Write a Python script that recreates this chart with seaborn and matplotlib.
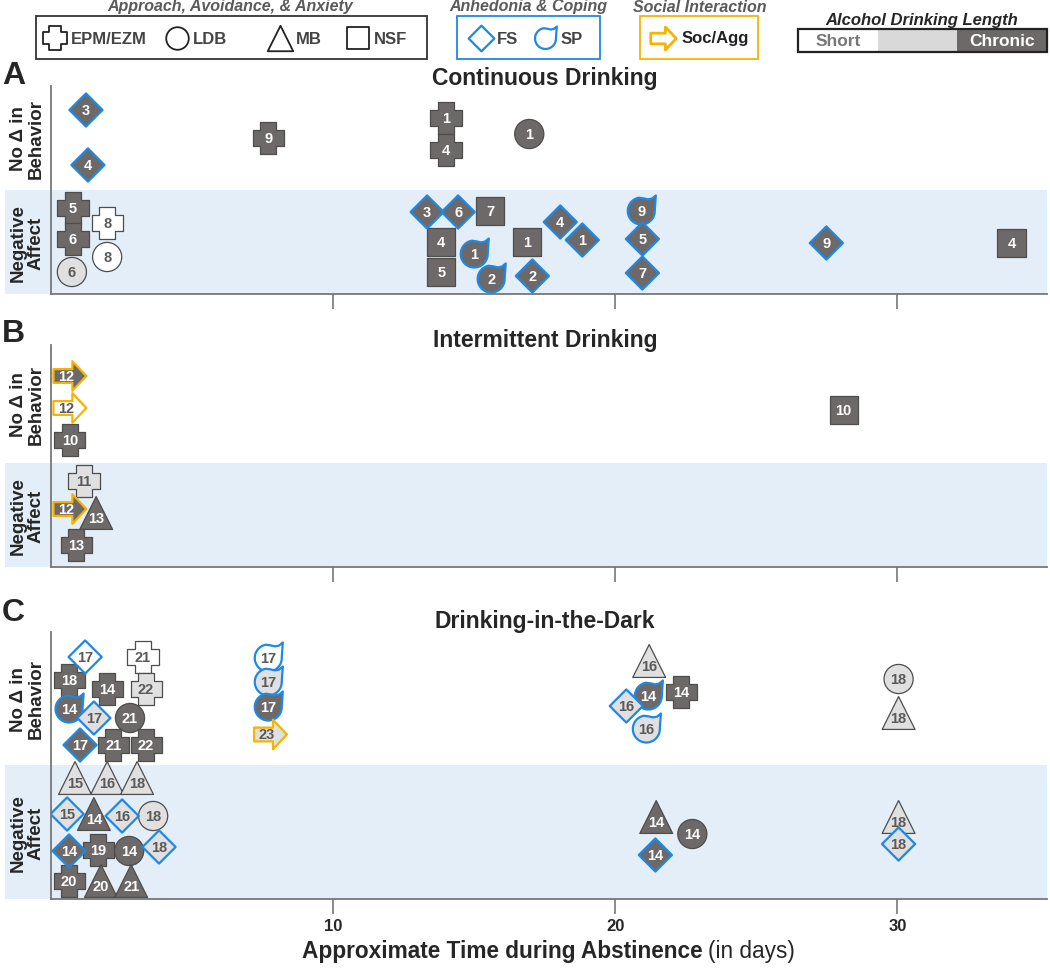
import numpy as np
import pandas as pd
import matplotlib
matplotlib.use('Agg')
import matplotlib.pyplot as plt
from matplotlib.path import Path
from matplotlib.patches import Rectangle
import seaborn as sns

# ---------------- data (day of abstinence, vertical slot inside panel) ----------------
# panel A - continuous drinking
a_day = [1.24, 1.31, 7.70, 14.0, 14.0, 16.95,
         0.78, 0.78, 0.74, 1.99, 1.99, 13.33, 14.43, 15.57, 13.83, 15.0, 13.83, 15.6,
         16.88, 18.05, 18.83, 17.06, 20.92, 20.96, 20.96, 27.48, 34.04]
a_y = [184, 129, 156, 176, 144, 160,
       86, 55, 22, 71, 37, 82, 82, 83, 52, 40, 22, 15,
       52, 72, 54, 18, 83, 55, 21, 51, 51]
a_test = ['FS', 'FS', 'EPM', 'EPM', 'EPM', 'LDB',
          'EPM', 'EPM', 'LDB', 'EPM', 'LDB', 'FS', 'FS', 'NSF', 'NSF', 'SP', 'NSF', 'SP',
          'NSF', 'FS', 'FS', 'FS', 'SP', 'FS', 'FS', 'FS', 'NSF']
a_len = ['chronic'] * 8 + ['mid', 'short', 'short'] + ['chronic'] * 16
a_lab = ['3', '4', '9', '1', '4', '1',
         '5', '6', '6', '8', '8', '3', '6', '7', '4', '1', '5', '2',
         '1', '4', '1', '2', '9', '5', '7', '9', '4']

# panel B - intermittent drinking
b_day = [0.67, 0.67, 0.67, 28.09, 1.17, 0.67, 1.60, 0.89]
b_y = [191, 159, 127, 157, 86, 58, 54, 22]
b_test = ['SOC', 'SOC', 'EPM', 'NSF', 'EPM', 'SOC', 'MB', 'EPM']
b_len = ['chronic', 'short', 'chronic', 'chronic', 'mid', 'chronic', 'chronic', 'chronic']
b_lab = ['12', '12', '10', '10', '11', '12', '13', '13']

# panel C - drinking-in-the-dark
c_day = [1.21, 0.64, 1.99, 0.64, 1.52, 2.80, 1.03, 2.20, 3.37, 3.26, 3.37,
         7.70, 7.70, 7.70, 7.77, 21.2, 21.17, 22.34, 20.39, 21.1, 30.04, 30.04,
         0.85, 1.99, 3.05, 0.57, 1.52, 2.52, 3.62, 0.64, 1.67, 2.77, 3.83,
         0.64, 1.77, 2.84, 21.45, 22.73, 21.42, 30.04, 30.04]
c_y = [242, 219, 210, 190, 181, 181, 154, 154, 154, 242, 210,
       241, 217, 192, 165, 238, 203, 207, 193, 170, 220, 186,
       121, 121, 121, 85, 85, 83, 83, 48, 49, 48, 52,
       18, 18, 18, 82, 65, 44, 82, 55]
c_test = ['FS', 'EPM', 'EPM', 'SP', 'FS', 'LDB', 'FS', 'EPM', 'EPM', 'EPM', 'EPM',
          'SP', 'SP', 'SP', 'SOC', 'MB', 'SP', 'EPM', 'FS', 'SP', 'LDB', 'MB',
          'MB', 'MB', 'MB', 'FS', 'MB', 'FS', 'LDB', 'FS', 'EPM', 'LDB', 'FS',
          'EPM', 'MB', 'MB', 'MB', 'LDB', 'FS', 'MB', 'FS']
c_len = ['short', 'chronic', 'chronic', 'chronic', 'mid', 'chronic', 'chronic', 'chronic', 'chronic', 'short', 'mid',
         'short', 'mid', 'chronic', 'mid', 'mid', 'chronic', 'chronic', 'mid', 'mid', 'mid', 'mid',
         'mid', 'mid', 'mid', 'mid', 'chronic', 'mid', 'mid', 'chronic', 'chronic', 'chronic', 'mid',
         'chronic', 'chronic', 'chronic', 'chronic', 'chronic', 'chronic', 'mid', 'mid']
c_lab = ['17', '18', '14', '14', '17', '21', '17', '21', '22', '21', '22',
         '17', '17', '17', '23', '16', '14', '14', '16', '16', '18', '18',
         '15', '16', '18', '15', '14', '16', '18', '14', '19', '14', '18',
         '20', '20', '21', '14', '14', '14', '18', '18']

titles = ['Continuous Drinking', 'Intermittent Drinking', 'Drinking-in-the-Dark']
letters = ['A', 'B', 'C']
xticks = [10, 20, 30]


# ---------------- marker shapes ----------------
def cross_path(a=0.26, b=0.5):
    v = [(-a, -b), (a, -b), (a, -a), (b, -a), (b, a), (a, a), (a, b), (-a, b),
         (-a, a), (-b, a), (-b, -a), (-a, -a), (-a, -b)]
    return Path(v, closed=True)


def drop_path():
    # round body, tail curling to a point at the upper right
    th = np.deg2rad(np.linspace(100, 360, 50))
    arc = np.c_[np.cos(th), np.sin(th)]
    right = np.array([[1.02, 0.35], [1.05, 0.75]])
    tip = np.array([[1.08, 1.15]])
    top = np.array([[0.8, 0.92], [0.5, 0.86], [0.2, 0.93]])
    v = np.vstack([arc, right, tip, top, arc[:1]])
    return Path(v, closed=True)


def arrow_path():
    v = [(-1, -0.42), (0.15, -0.42), (0.15, -0.9), (1, 0), (0.15, 0.9),
         (0.15, 0.42), (-1, 0.42), (-1, -0.42)]
    return Path(v, closed=True)


markers = {'EPM': cross_path(), 'LDB': 'o', 'MB': '^', 'NSF': 's',
           'FS': 'D', 'SP': drop_path(), 'SOC': arrow_path()}
sizes = {'EPM': 500, 'LDB': 440, 'MB': 560, 'NSF': 410, 'FS': 285, 'SP': 500, 'SOC': 560}
fills = {'short': '#ffffff', 'mid': '#e0e0e0', 'chronic': '#6d6968'}
groups = [(['EPM', 'LDB', 'MB', 'NSF'], '#4d4d4d', 0.9),
          (['FS', 'SP'], '#1e88e5', 1.6),
          (['SOC'], '#f4b400', 1.6)]
BLUE = '#1e88e5'
GOLD = '#f4b400'
BAND = '#e4eef8'

sns.set_theme(style='ticks')
plt.rcParams['font.family'] = ['Liberation Sans', 'DejaVu Sans']

W, H = 1050, 970
fig = plt.figure(figsize=(10.5, 9.7), dpi=100)

# pixel-space overlay for bands, labels and the legend
ov = fig.add_axes([0, 0, 1, 1])
ov.set_xlim(0, W)
ov.set_ylim(H, 0)
ov.axis('off')
ov.set_zorder(0)

# panel geometry in pixels: top, bottom, band top
geo = [(87, 295, 191), (346, 568, 464), (633, 900, 766)]
title_y = [79, 341, 622]
letter_y = [76, 334, 613]
ax_left, ax_right = 51, 1047

data = [(a_day, a_y, a_test, a_len, a_lab),
        (b_day, b_y, b_test, b_len, b_lab),
        (c_day, c_y, c_test, c_len, c_lab)]

for i, (top, bot, band) in enumerate(geo):
    ax = fig.add_axes([ax_left / W, 1 - bot / H, (ax_right - ax_left) / W, (bot - top) / H])
    ax.set_zorder(1)
    ax.patch.set_alpha(0)
    ov.add_patch(Rectangle((5, band), ax_right - 5, bot - band, color=BAND, lw=0))

    day, yy, test, length, lab = data[i]
    df = pd.DataFrame({'day': day, 'y': yy, 'test': test, 'length': length, 'label': lab})
    for tests, edge, lw in groups:
        sub = df[df['test'].isin(tests)]
        if sub.empty:
            continue
        sns.scatterplot(data=sub, x='day', y='y', hue='length', palette=fills,
                        style='test', markers=markers, size='test', sizes=sizes,
                        edgecolor=edge, linewidth=lw, legend=False, ax=ax, zorder=2)
    for _, r in df.iterrows():
        dx, dy = 0, 0
        if r['test'] == 'MB':
            dy = -3.5
        elif r['test'] == 'SOC':
            dx = -2.5
        col = 'white' if r['length'] == 'chronic' else '#5a5a5a'
        ax.annotate(r['label'], (r['day'], r['y']), xytext=(dx, dy), textcoords='offset points',
                    ha='center', va='center', fontsize=10.5, fontweight='bold', color=col, zorder=3)

    ax.set_xlim(0, 35.3)
    ax.set_ylim(0, bot - top)
    ax.set_xticks(xticks)
    ax.set_yticks([])
    ax.set_xlabel('')
    ax.set_ylabel('')
    for s in ['top', 'right']:
        ax.spines[s].set_visible(False)
    for s in ['left', 'bottom']:
        ax.spines[s].set_color('#777777')
        ax.spines[s].set_linewidth(1.3)
    ax.tick_params(axis='x', bottom=True, direction='out', length=11, width=1.2, color='#777777',
                   labelsize=12, pad=3, labelbottom=(i == 2))
    ax.tick_params(axis='y', left=False)
    if i == 2:
        for t in ax.get_xticklabels():
            t.set_fontweight('bold')

    ov.text(545, title_y[i], titles[i], ha='center', va='center', fontsize=16.5, fontweight='bold')
    ov.text(2, letter_y[i], letters[i], ha='left', va='center', fontsize=23, fontweight='bold')
    ov.text(27, (top + band) / 2, 'No \u0394 in\nBehavior', rotation=90, ha='center', va='center',
            fontsize=13.5, fontweight='bold', linespacing=1.05)
    ov.text(27, (band + bot) / 2, 'Negative\nAffect', rotation=90, ha='center', va='center',
            fontsize=13.5, fontweight='bold', linespacing=1.05)

# x axis label, bold part + normal part
renderer = fig.canvas.get_renderer()
t1 = ov.text(302, 952, 'Approximate Time during Abstinence', ha='left', va='center',
             fontsize=16.3, fontweight='bold')
bb = t1.get_window_extent(renderer).transformed(ov.transData.inverted())
ov.text(bb.x1 + 5, 952, '(in days)', ha='left', va='center', fontsize=16.3)


# ---------------- legend ----------------
def box(x0, x1, edge):
    ov.add_patch(Rectangle((x0, 17), x1 - x0, 43, fill=False, edgecolor=edge, lw=1.3))


box(36, 427, '#333333')
box(457, 600, BLUE)
box(640, 758, GOLD)
for x, txt in [(230, 'Approach, Avoidance, & Anxiety'), (528, 'Anhedonia & Coping'),
               (700, 'Social Interaction')]:
    ov.text(x, 7, txt, ha='center', va='center', fontsize=11.5, fontweight='bold',
            style='italic', color='#5a5a5a')

leg = [(55, 'EPM', 'EPM/EZM', '#222222', 1.3), (177, 'LDB', 'LDB', '#222222', 1.3),
       (280, 'MB', 'MB', '#222222', 1.3), (358, 'NSF', 'NSF', '#222222', 1.3),
       (481, 'FS', 'FS', BLUE, 1.6), (545, 'SP', 'SP', BLUE, 1.6),
       (663, 'SOC', 'Soc/Agg', GOLD, 2.0)]
for x, key, txt, edge, lw in leg:
    ov.scatter([x], [39], marker=markers[key], s=sizes[key] * 0.6, facecolor='white',
               edgecolor=edge, linewidths=lw, zorder=3)
    ov.text(x + 16 if key != 'SOC' else 682, 39, txt, ha='left', va='center',
            fontsize=12, fontweight='bold', color='#222222' if key == 'SOC' else '#444444')

ov.text(922, 20, 'Alcohol Drinking Length', ha='center', va='center', fontsize=12,
        fontweight='bold', style='italic')
segs = [(798, 878, fills['short']), (878, 957, '#d9d9d9'), (957, 1047, fills['chronic'])]
for x0, x1, c in segs:
    ov.add_patch(Rectangle((x0, 30), x1 - x0, 23, facecolor=c, edgecolor='none'))
ov.add_patch(Rectangle((798, 30), 249, 23, fill=False, edgecolor='#222222', lw=1.6))
ov.text(838, 42, 'Short', ha='center', va='center', fontsize=12.5, fontweight='bold', color='#777777')
ov.text(1002, 41, 'Chronic', ha='center', va='center', fontsize=12.5, fontweight='bold', color='white')

fig.savefig('out.png', dpi=100)
